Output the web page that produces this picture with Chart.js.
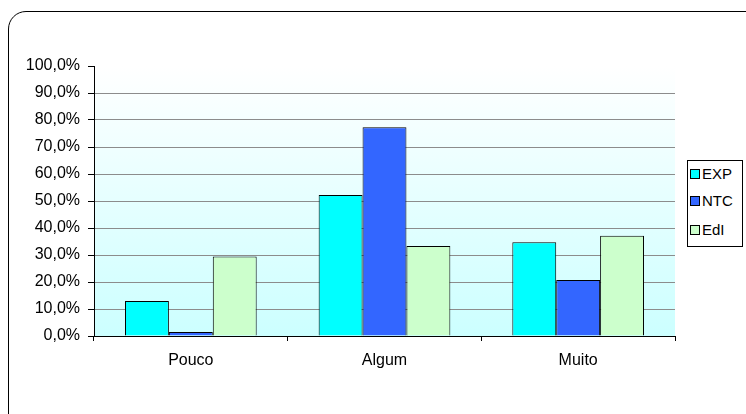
<!DOCTYPE html>
<html>
<head>
<meta charset="utf-8">
<script src="https://cdn.jsdelivr.net/npm/chart.js@4/dist/chart.umd.min.js"></script>
<style>
  html, body { margin: 0; padding: 0; background: #fff; }
  #wrap { position: relative; width: 746px; height: 414px; overflow: hidden; font-family: "Liberation Sans", Arial, sans-serif; }
  #frame { position: absolute; left: 8px; top: 11px; width: 760px; height: 430px; border: 1.5px solid #000; border-radius: 18px; box-sizing: border-box; }
  #chart { position: absolute; left: 0; top: 0; }
  #legend { position: absolute; left: 687px; top: 160px; width: 56px; height: 87px; border: 1px solid #000; box-sizing: border-box; background: #fff; }
  .item { position: absolute; left: 2px; font-size: 15px; color: #000; line-height: 16px; white-space: nowrap; }
  .sw { display: inline-block; width: 8px; height: 8px; border: 1px solid #000; margin-right: 2px; vertical-align: 0px; }
</style>
</head>
<body>
<div id="wrap">
  <div id="frame"></div>
  <canvas id="chart" width="746" height="414"></canvas>
  <div id="legend"></div>
</div>
<script>
// Response categories and share of answers per group (percent)
const categories = ['Pouco', 'Algum', 'Muito'];
const seriesNames = ['EXP', 'NTC', 'EdI'];
const expValues = [13.0, 52.2, 34.7];
const ntcValues = [1.5, 77.3, 20.7];
const ediValues = [29.4, 33.3, 37.1];
const seriesColors = ['#00FFFF', '#3366FF', '#CCFFCC'];
const yTicks = [0, 10, 20, 30, 40, 50, 60, 70, 80, 90, 100];

const seriesValues = [expValues, ntcValues, ediValues];

// Plot area shaded from white at the top to pale cyan at the bottom
const plotBackground = {
  id: 'plotBackground',
  beforeDraw(chart) {
    const { ctx, chartArea: a } = chart;
    const g = ctx.createLinearGradient(0, a.top, 0, a.bottom);
    g.addColorStop(0, '#FFFFFF');
    g.addColorStop(1, '#CCFFFF');
    ctx.save();
    ctx.fillStyle = g;
    ctx.fillRect(a.left, a.top, a.right - a.left, a.bottom - a.top);
    ctx.restore();
  }
};

const fmt = v => v.toFixed(1).replace('.', ',') + '%';
const labelFont = { family: 'Liberation Sans', size: 16 };

new Chart(document.getElementById('chart'), {
  type: 'bar',
  data: {
    labels: categories,
    datasets: seriesNames.map((name, i) => ({
      label: name,
      data: seriesValues[i],
      backgroundColor: seriesColors[i],
      borderColor: '#000',
      borderWidth: 1,
      categoryPercentage: 0.68,
      barPercentage: 1.0
    }))
  },
  options: {
    responsive: false,
    animation: false,
    devicePixelRatio: 1,
    layout: { padding: { left: 0, top: 66, right: 71, bottom: 0 } },
    plugins: { legend: { display: false }, tooltip: { enabled: false } },
    scales: {
      x: {
        offset: true,
        afterFit(s) { s.height = 78; },
        grid: { drawOnChartArea: false, drawTicks: true, tickLength: 5, tickColor: '#000', offset: true },
        border: { color: '#000', width: 1 },
        ticks: { color: '#000', padding: 10, font: labelFont }
      },
      y: {
        min: 0,
        max: 100,
        afterFit(s) { s.width = 94; },
        afterBuildTicks(s) { s.ticks = yTicks.map(v => ({ value: v })); },
        grid: {
          color: ctx => (ctx.tick && (ctx.tick.value === 100 || ctx.tick.value === 0)) ? 'rgba(0,0,0,0)' : '#8C8C8C',
          tickColor: '#000',
          tickLength: 6,
          lineWidth: 1
        },
        border: { color: '#000', width: 1 },
        ticks: {
          color: '#000',
          padding: 8,
          font: labelFont,
          callback: v => fmt(v)
        }
      }
    }
  },
  plugins: [plotBackground]
});

// Legend box at the right of the plot
const legend = document.getElementById('legend');
const rowTops = [5, 32, 61];
seriesNames.forEach((name, i) => {
  const d = document.createElement('div');
  d.className = 'item';
  d.style.top = rowTops[i] + 'px';
  const sw = document.createElement('span');
  sw.className = 'sw';
  sw.style.background = seriesColors[i];
  d.appendChild(sw);
  d.appendChild(document.createTextNode(name));
  legend.appendChild(d);
});
</script>
</body>
</html>
